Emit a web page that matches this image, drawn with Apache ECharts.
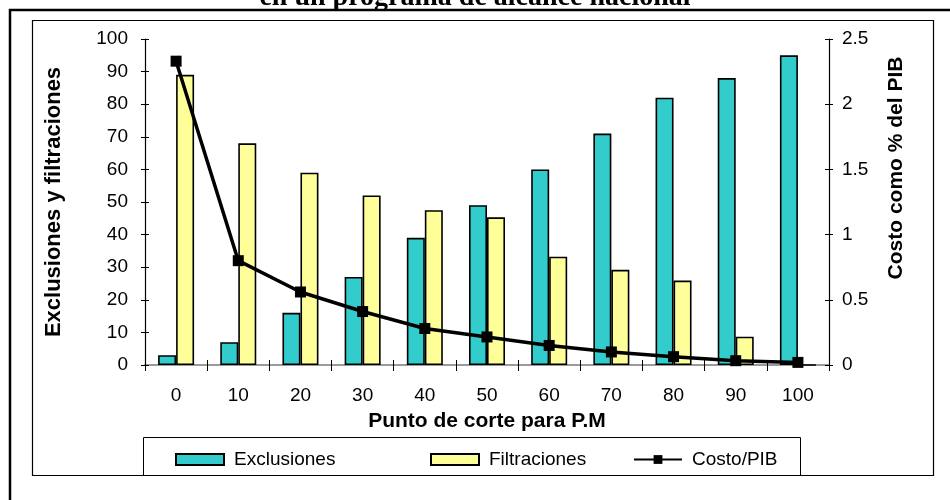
<!DOCTYPE html>
<html>
<head>
<meta charset="utf-8">
<script src="https://cdn.jsdelivr.net/npm/echarts@6/dist/echarts.min.js"></script>
<style>
  html, body { margin: 0; padding: 0; background: #fff; }
  #chart { width: 950px; height: 500px; }
</style>
</head>
<body>
<div id="chart"></div>
<script>
// punto de corte
const categories = ['0', '10', '20', '30', '40', '50', '60', '70', '80', '90', '100']
const exclusiones = [3, 7, 16, 27, 39, 49, 60, 71, 82, 88, 95]
const filtraciones = [89, 68, 59, 52, 47.5, 45.3, 33.2, 29.2, 25.9, 8.7, 0]
const costoPib = [2.33, 0.8, 0.56, 0.41, 0.28, 0.215, 0.15, 0.1, 0.064, 0.033, 0.02]
const leftTicks = { min: 0, max: 100, interval: 10 }
const rightTicks = { min: 0, max: 2.5, interval: 0.5 }

const font = 'Liberation Sans'
const chart = echarts.init(document.getElementById('chart'))

let tickOnly = (pos, range, inside) => ({
  type: 'value',
  position: pos,
  min: range.min,
  max: range.max,
  interval: range.interval,
  axisLine: { show: false },
  axisTick: { show: true, inside: inside, length: 4, lineStyle: { color: '#000' } },
  axisLabel: { show: false },
  splitLine: { show: false }
})

let option = {
  animation: false,
  title: {
    text: 'en un programa de alcance nacional',
    left: 'center',
    top: -16,
    padding: 0,
    textStyle: { fontFamily: 'Liberation Serif', fontWeight: 'bold', fontSize: 28, color: '#000' }
  },
  graphic: [
    { type: 'rect', shape: { x: 10, y: 10, width: 960, height: 520 }, style: { fill: null, stroke: '#000', lineWidth: 2.5 }, silent: true },
    { type: 'rect', shape: { x: 32.5, y: 20.5, width: 901, height: 455 }, style: { fill: null, stroke: '#000', lineWidth: 1.2 }, silent: true },
    { type: 'rect', shape: { x: 143.5, y: 437.5, width: 657, height: 38 }, style: { fill: null, stroke: '#000', lineWidth: 1 }, silent: true }
  ],
  grid: { left: 145, right: 121, top: 39, bottom: 135, containLabel: false },
  legend: [
    { data: ['Exclusiones'], left: 175, top: 450, icon: 'rect' },
    { data: ['Filtraciones'], left: 430, top: 450, icon: 'rect' },
    { data: ['Costo/PIB'], left: 633, top: 450 }
  ].map(l => Object.assign(l, {
    padding: 0,
    itemWidth: 48,
    itemHeight: 11,
    textStyle: { fontFamily: font, fontSize: 19, color: '#000', padding: [0, 0, 0, 5] }
  })),
  xAxis: [
    {
      type: 'category',
      data: categories,
      position: 'bottom',
      name: 'Punto de corte para P.M',
      nameLocation: 'middle',
      nameGap: 46,
      nameTextStyle: { fontFamily: font, fontWeight: 'bold', fontSize: 21, color: '#000' },
      axisLine: { lineStyle: { color: '#000', width: 1.2 } },
      axisTick: { show: true, length: 6, lineStyle: { color: '#000' } },
      axisLabel: { fontFamily: font, fontSize: 19, color: '#000', margin: 21 },
      splitLine: { show: false }
    },
    {
      type: 'category',
      data: categories,
      position: 'bottom',
      axisLine: { show: false },
      axisTick: { show: true, inside: true, length: 5, lineStyle: { color: '#000' } },
      axisLabel: { show: false }
    },
    {
      type: 'category',
      data: categories,
      position: 'top',
      axisLine: { show: true, lineStyle: { color: '#9a9a9a', width: 2 } },
      axisTick: { show: false },
      axisLabel: { show: false }
    }
  ],
  yAxis: [
    {
      type: 'value',
      position: 'left',
      min: leftTicks.min,
      max: leftTicks.max,
      interval: leftTicks.interval,
      name: 'Exclusiones y filtraciones',
      nameLocation: 'middle',
      nameGap: 80,
      nameRotate: 90,
      nameTextStyle: { fontFamily: font, fontWeight: 'bold', fontSize: 22, color: '#000' },
      axisLine: { show: true, lineStyle: { color: '#000', width: 1.2 } },
      axisTick: { show: true, length: 4, lineStyle: { color: '#000' } },
      axisLabel: { fontFamily: font, fontSize: 19, color: '#000', margin: 17 },
      splitLine: { show: false }
    },
    {
      type: 'value',
      position: 'right',
      min: rightTicks.min,
      max: rightTicks.max,
      interval: rightTicks.interval,
      name: 'Costo como % del PIB',
      nameLocation: 'middle',
      nameGap: 57,
      nameRotate: 90,
      nameTextStyle: { fontFamily: font, fontWeight: 'bold', fontSize: 21, color: '#000', padding: [0, 0, 0, 68] },
      axisLine: { show: true, lineStyle: { color: '#000', width: 1.2 } },
      axisTick: { show: true, length: 4, lineStyle: { color: '#000' } },
      axisLabel: { fontFamily: font, fontSize: 19, color: '#000', margin: 13 },
      splitLine: { show: false }
    },
    tickOnly('left', leftTicks, true),
    tickOnly('right', rightTicks, true)
  ],
  series: [
    {
      name: 'Exclusiones',
      type: 'bar',
      data: exclusiones,
      barWidth: 18,
      barGap: '0%',
      itemStyle: { color: '#33CCCC', borderColor: '#000', borderWidth: 1.6 }
    },
    {
      name: 'Filtraciones',
      type: 'bar',
      data: filtraciones,
      barWidth: 18,
      barGap: '0%',
      itemStyle: { color: '#FFFF99', borderColor: '#000', borderWidth: 1.6 }
    },
    {
      name: 'Costo/PIB',
      type: 'line',
      yAxisIndex: 1,
      data: costoPib,
      symbol: 'rect',
      symbolSize: 11,
      lineStyle: { color: '#000', width: 3.5 },
      itemStyle: { color: '#000' },
      z: 5
    }
  ]
}
chart.setOption(option)
</script>
</body>
</html>
